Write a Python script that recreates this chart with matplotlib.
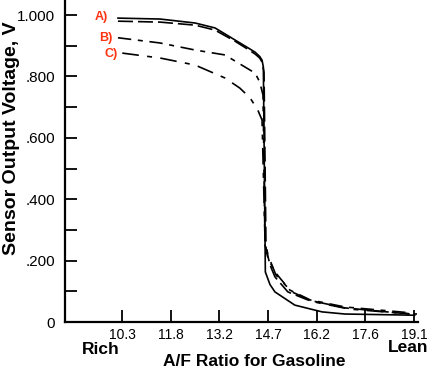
import matplotlib
matplotlib.use("Agg")
import matplotlib.pyplot as plt

plt.rcParams['font.family'] = ['Liberation Sans', 'DejaVu Sans']

# A/F ratio tick values and labels
xtick_vals = [14.7 * l for l in (0.7, 0.8, 0.9, 1.0, 1.1, 1.2, 1.3)]
xtick_labels = ["10.3", "11.8", "13.2", "14.7", "16.2", "17.6", "19.1"]
ytick_vals = [0, 0.2, 0.4, 0.6, 0.8, 1.0]
ytick_labels = ["0", ".200", ".400", ".600", ".800", "1.000"]
yminor_vals = [0.1, 0.3, 0.5, 0.7, 0.9]

# Curve A (solid)
a1_x = [10.17, 11.44, 12.50, 13.10, 13.70, 14.10, 14.31, 14.45, 14.52, 14.56, 14.62, 14.76, 14.91, 15.51, 16.33, 17.02, 18.68, 19.13]
a1_y = [0.990, 0.987, 0.974, 0.958, 0.919, 0.893, 0.879, 0.865, 0.853, 0.831, 0.163, 0.122, 0.098, 0.055, 0.033, 0.026, 0.023, 0.022]
# Curve A (long dash)
a2_x = [10.17, 11.44, 12.50, 13.10, 13.70, 14.10, 14.31, 14.45, 14.52, 14.58, 14.64, 14.76, 14.91, 15.30, 15.90, 17.02, 18.68, 19.20]
a2_y = [0.980, 0.977, 0.967, 0.951, 0.915, 0.888, 0.873, 0.860, 0.847, 0.814, 0.241, 0.186, 0.147, 0.098, 0.072, 0.046, 0.029, 0.026]
# Curve B
b_x = [10.17, 11.44, 12.50, 13.40, 14.00, 14.31, 14.45, 14.55, 14.61, 14.70, 14.91, 15.36, 15.97, 17.02, 18.68, 19.05]
b_y = [0.926, 0.909, 0.886, 0.870, 0.831, 0.811, 0.782, 0.739, 0.250, 0.208, 0.163, 0.104, 0.072, 0.049, 0.033, 0.029]
# Curve C
c_x = [10.30, 11.44, 12.50, 13.40, 13.85, 14.16, 14.39, 14.52, 14.61, 14.70, 14.94, 15.42, 16.11, 17.17, 18.68, 18.98]
c_y = [0.876, 0.860, 0.837, 0.795, 0.762, 0.730, 0.691, 0.658, 0.267, 0.218, 0.153, 0.098, 0.065, 0.042, 0.029, 0.026]

fig = plt.figure(figsize=(4.3, 3.7), dpi=100)
ax = fig.add_axes([65/430, 1 - 322/370, (418 - 65)/430, 322/370])

lw = 1.2
ax.plot(a1_x, a1_y, color='black', lw=lw, linestyle='-')
ax.plot(a2_x, a2_y, color='black', lw=lw, linestyle=(0, (9, 3)))
ax.plot(b_x, b_y, color='black', lw=lw, linestyle=(0, (8, 4, 3, 4)))
ax.plot(c_x, c_y, color='black', lw=lw, linestyle=(0, (10, 5, 3, 5)))

ax.set_xlim(8.57, 19.23)
ax.set_ylim(0, 1.049)

for s in ('top', 'right'):
    ax.spines[s].set_visible(False)
for s in ('left', 'bottom'):
    ax.spines[s].set_linewidth(1.6)

ax.set_xticks(xtick_vals)
ax.set_xticklabels(xtick_labels)
ax.set_yticks(ytick_vals)
ax.set_yticklabels(ytick_labels)
ax.set_yticks(yminor_vals, minor=True)
ax.tick_params(axis='x', direction='in', length=8.6, width=1.3, pad=4, labelsize=10)
ax.tick_params(axis='y', which='both', direction='in', length=8.6, width=1.3, pad=7, labelsize=11)

red = '#ff3311'
ax.text(9.87, 0.993, 'A)', color=red, fontsize=9, fontweight='bold', ha='right', va='center')
ax.text(9.99, 0.925, 'B)', color=red, fontsize=9, fontweight='bold', ha='right', va='center')
ax.text(10.17, 0.873, 'C)', color=red, fontsize=9, fontweight='bold', ha='right', va='center')

fig.text(12/430, 1 - 138/370, 'Sensor Output Voltage, V', rotation=90, ha='center', va='center',
         fontsize=14, fontweight='bold')
fig.text(254/430, 1 - 361/370, 'A/F Ratio for Gasoline', ha='center', va='center',
         fontsize=12.5, fontweight='bold')
fig.text(101/430, 1 - 350/370, 'Rich', ha='center', va='center', fontsize=12.5, fontweight='bold')
fig.text(428/430, 1 - 348/370, 'Lean', ha='right', va='center', fontsize=12.5, fontweight='bold')

fig.savefig('out.png', dpi=100)
